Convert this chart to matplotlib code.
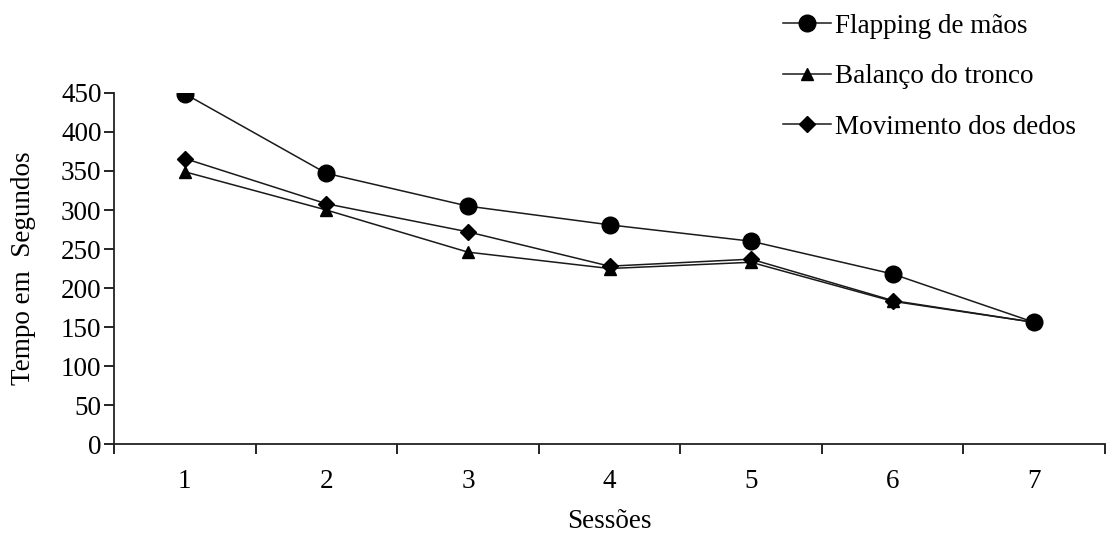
import matplotlib
matplotlib.use("Agg")
import matplotlib.pyplot as plt
import numpy as np

sessions = ["1", "2", "3", "4", "5", "6", "7"]
flapping = [449, 347, 305, 281, 260, 218, 156]
balanco = [349, 300, 246, 225, 233, 183, 156]
dedos = [366, 308, 272, 228, 237, 184, 156]
yticks = [0, 50, 100, 150, 200, 250, 300, 350, 400, 450]

plt.rcParams["font.family"] = ["Liberation Serif", "DejaVu Serif"]
FS = 19.5

fig = plt.figure(figsize=(11.08, 5.35), dpi=100)
ax = fig.add_axes([0.1029, 0.170, 0.8944, 0.6562])

x = np.arange(len(sessions))
lw = 1.1
col = "#1a1a1a"
ax.plot(x, flapping, color=col, lw=lw, marker="o", ms=12, mfc="black", mec="black",
        label="Flapping de mãos", zorder=3)
ax.plot(x, balanco, color=col, lw=lw, marker="^", ms=9, mfc="black", mec="black",
        label="Balanço do tronco", zorder=3)
ax.plot(x, dedos, color=col, lw=lw, marker="D", ms=8, mfc="black", mec="black",
        label="Movimento dos dedos", zorder=3)

ax.set_xlim(-0.5, len(sessions) - 0.5)
ax.set_ylim(0, 450)
ax.set_yticks(yticks)
ax.set_xticks(np.arange(-0.5, len(sessions)), labels=[""] * (len(sessions) + 1))
ax.set_xticks(x, labels=sessions, minor=True)
ax.tick_params(axis="x", which="major", direction="out", length=7, width=1.2)
ax.tick_params(axis="x", which="minor", length=0, pad=18, labelsize=FS)
ax.tick_params(axis="y", direction="out", length=7, width=1.2, pad=2, labelsize=FS)

for s in ["top", "right"]:
    ax.spines[s].set_visible(False)
for s in ["left", "bottom"]:
    ax.spines[s].set_linewidth(1.3)
    ax.spines[s].set_color("#222222")

ax.set_ylabel("Tempo em  Segundos", fontsize=FS, labelpad=18)
ax.set_xlabel("Sessões", fontsize=FS, labelpad=11)

fig.legend(loc="upper left", bbox_to_anchor=(0.697, 0.995), frameon=False,
           fontsize=FS, handlelength=1.75, handletextpad=0.15, labelspacing=0.95,
           borderaxespad=0.0)

fig.savefig("out.png", dpi=100)
